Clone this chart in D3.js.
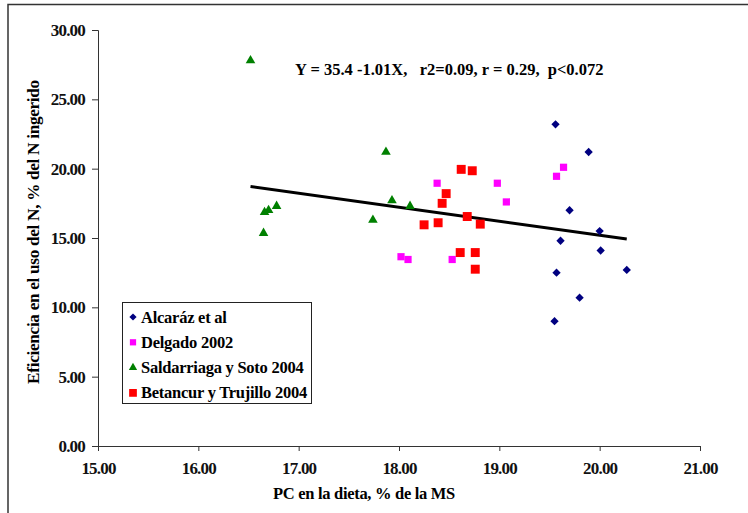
<!DOCTYPE html>
<html>
<head>
<meta charset="utf-8">
<script src="https://cdn.jsdelivr.net/npm/d3@7"></script>
<style>
  body { margin: 0; background: #fff; }
  text { font-family: "Liberation Serif", "Times New Roman", serif; font-weight: bold; }
</style>
</head>
<body>
<svg id="frame" width="748" height="513"></svg>
<script>
// data
let alcaraz = [
  [19.56, 23.2], [19.89, 21.2], [19.70, 17.0], [20.00, 15.5], [19.61, 14.8],
  [20.01, 14.1], [19.57, 12.5], [20.27, 12.7], [19.80, 10.7], [19.55, 9.0]
];
let delgado = [
  [18.38, 18.95], [18.98, 18.95], [19.07, 17.6], [18.02, 13.65], [18.09, 13.45],
  [18.53, 13.45], [19.57, 19.45], [19.64, 20.1]
];
let saldarriaga = [
  [16.52, 27.8], [17.87, 21.2], [17.93, 17.7], [16.66, 16.85], [16.70, 17.0],
  [16.78, 17.3], [16.65, 15.35], [17.74, 16.3], [18.11, 17.3]
];
let betancur = [
  [18.62, 19.95], [18.73, 19.85], [18.47, 18.2], [18.43, 17.5], [18.25, 15.95],
  [18.39, 16.1], [18.68, 16.55], [18.81, 16.0], [18.61, 13.95], [18.76, 13.95],
  [18.76, 12.75]
];
let seriesNames = ["Alcaráz et al", "Delgado 2002", "Saldarriaga y Soto 2004", "Betancur y Trujillo 2004"];
let xTicks = [15, 16, 17, 18, 19, 20, 21];
let yTicks = [0, 5, 10, 15, 20, 25, 30];
let intercept = 35.4, slope = -1.01;

let config = { width: 748, height: 513, left: 98, right: 700, top: 30, bottom: 446 };

let series = [
  { name: seriesNames[0], data: alcaraz, color: "#000080", shape: d3.symbolDiamond2, size: 44 },
  { name: seriesNames[1], data: delgado, color: "#ff00ff", shape: d3.symbolSquare, size: 52 },
  { name: seriesNames[2], data: saldarriaga, color: "#008000", shape: d3.symbolTriangle, size: 40 },
  { name: seriesNames[3], data: betancur, color: "#ff0000", shape: d3.symbolSquare, size: 80 }
];

let svg = d3.select("#frame");

// outer border (cut on right and bottom like the picture)
svg.append("path")
  .attr("d", "M8,513 V4.5 H748")
  .attr("fill", "none")
  .attr("stroke", "#333")
  .attr("stroke-width", 1.5);

let x = d3.scaleLinear().domain([15, 21]).range([config.left, config.right]);
let y = d3.scaleLinear().domain([0, 30]).range([config.bottom, config.top]);

let xAxis = svg.append("g")
  .attr("transform", `translate(0,${config.bottom})`)
  .call(d3.axisBottom(x).tickValues(xTicks).tickFormat(d3.format(".2f")).tickSize(5).tickSizeOuter(5));
let yAxis = svg.append("g")
  .attr("transform", `translate(${config.left},0)`)
  .call(d3.axisLeft(y).tickValues(yTicks).tickFormat(d3.format(".2f")).tickSize(6).tickSizeOuter(6));

[xAxis, yAxis].forEach(a => {
  a.select(".domain").attr("stroke", "#333");
  a.selectAll(".tick line").attr("stroke", "#333");
  a.selectAll("text").attr("font-size", 17).attr("fill", "#111")
    .attr("letter-spacing", -0.8)
    .style("font-family", "'Liberation Serif', serif").style("font-weight", "bold");
});
xAxis.selectAll("text").attr("dy", "1.2em");
yAxis.selectAll("text").attr("x", -13);

// axis titles
svg.append("text")
  .attr("x", 364).attr("y", 499)
  .attr("text-anchor", "middle")
  .attr("font-size", 16.5)
  .attr("letter-spacing", -0.3)
  .text("PC en la dieta, % de la MS");
svg.append("text")
  .attr("transform", "translate(39,232) rotate(-90)")
  .attr("text-anchor", "middle")
  .attr("font-size", 17.2)
  .attr("letter-spacing", -0.3)
  .text("Eficiencia en el uso del N, % del N ingerido");

// regression line over data range
let allX = series.flatMap(s => s.data.map(d => d[0]));
let xr = d3.extent(allX);
svg.append("line")
  .attr("x1", x(xr[0])).attr("y1", y(intercept + slope * xr[0]))
  .attr("x2", x(xr[1])).attr("y2", y(intercept + slope * xr[1]))
  .attr("stroke", "#000").attr("stroke-width", 3);

// points
series.forEach(s => {
  svg.append("g").selectAll("path")
    .data(s.data)
    .join("path")
    .attr("transform", d => `translate(${x(d[0])},${y(d[1])})`)
    .attr("d", d3.symbol().type(s.shape).size(s.size))
    .attr("fill", s.color);
});

// equation
svg.append("text")
  .attr("x", 295).attr("y", 75)
  .attr("font-size", 16.5)
  .attr("xml:space", "preserve")
  .style("white-space", "pre")
  .text("Y = 35.4 -1.01X,   r2=0.09, r = 0.29,  p<0.072");

// legend
let legend = svg.append("g");
legend.append("rect")
  .attr("x", 122.5).attr("y", 302.5).attr("width", 189).attr("height", 101)
  .attr("fill", "#fff").attr("stroke", "#222").attr("stroke-width", 1);
let items = legend.selectAll("g.item")
  .data(series)
  .join("g")
  .classed("item", true)
  .attr("transform", (d, i) => `translate(133,${317 + i * 25.3})`);
items.append("path")
  .attr("d", d => d3.symbol().type(d.shape).size(d.size * 0.75)())
  .attr("fill", d => d.color);
items.append("text")
  .attr("x", 8).attr("y", 5.5)
  .attr("font-size", 16.5)
  .attr("letter-spacing", -0.25)
  .text(d => d.name);
</script>
</body>
</html>
